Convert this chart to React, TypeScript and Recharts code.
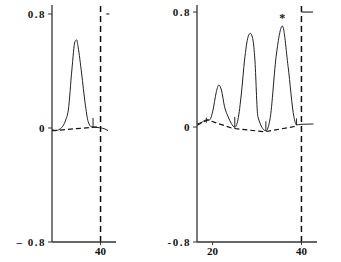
import React from "react";
import {
  LineChart,
  Line,
  XAxis,
  YAxis,
  ReferenceLine,
  ReferenceDot,
} from "recharts";

// left panel trace (time, absorbance)
const leftX = [29.0, 29.7, 30.8, 32.1, 32.7, 33.5, 34.2, 34.6, 34.9, 35.7, 36.5, 37.2, 38.0, 39.8, 41.0, 41.7];
const leftY = [-0.007, -0.019, -0.007, 0.056, 0.126, 0.407, 0.606, 0.618, 0.571, 0.386, 0.175, 0.044, 0.007, 0.002, -0.007, -0.019];
const leftBaseX = [29.0, 39.8];
const leftBaseY = [-0.019, 0.009];
const leftMarks = [[38.3, 0.007, 0.07]];

// right panel trace
const rightX = [16.5, 17.4, 18.6, 19.3, 20.1, 20.8, 21.4, 22.0, 22.7, 23.5, 24.2, 25.0, 25.7, 26.5, 27.2, 28.0, 28.5, 29.1, 29.5, 30.2, 32.0, 32.9, 34.4, 35.7, 37.0, 38.3, 38.9, 39.9, 42.7];
const rightY = [0.021, 0.03, 0.049, 0.049, 0.118, 0.237, 0.292, 0.257, 0.141, 0.072, 0.026, -0.002, 0.049, 0.237, 0.466, 0.628, 0.652, 0.605, 0.48, 0.072, -0.026, 0.049, 0.515, 0.703, 0.42, 0.072, 0.014, 0.019, 0.021];
const rightBaseX = [16.5, 18.9, 24.5, 31.7, 39.1];
const rightBaseY = [0.012, 0.049, -0.009, -0.033, 0.007];
const rightMarks = [
  [18.6, 0.03, 0.065],
  [25.0, -0.002, 0.07],
  [32.0, -0.026, 0.04],
  [38.9, 0.014, 0.06],
];
const starX = 35.7;
const starY = 0.703;

const yTicks = [-0.8, 0, 0.8];
const leftXTicks = [40];
const rightXTicks = [20, 40];

const zip = (xs: number[], ys: number[]) => xs.map((x, i) => ({ x, y: ys[i] }));

const font = { fontFamily: "Liberation Serif", fontWeight: 700, fontSize: 11, fill: "#111" };

function Panel(props: {
  left: number;
  width: number;
  axisW: number;
  xDomain: [number, number];
  yTop: number;
  xTicks: number[];
  curve: { x: number; y: number }[];
  base: { x: number; y: number }[];
  marks: number[][];
  negLabel: string;
  capEnd: number;
  capStart: number;
  star?: boolean;
}) {
  const { xDomain } = props;
  return (
    <div style={{ position: "absolute", left: props.left, top: 0 }}>
      <LineChart
        width={props.width}
        height={262}
        margin={{ top: 5, right: 10, bottom: 0, left: 0 }}
      >
        <XAxis
          type="number"
          dataKey="x"
          domain={xDomain}
          allowDataOverflow
          ticks={props.xTicks}
          tick={font}
          tickSize={3}
          tickMargin={2}
          height={20}
          axisLine={{ stroke: "#333", strokeWidth: 1.3 }}
          tickLine={{ stroke: "#333" }}
        />
        <YAxis
          type="number"
          dataKey="y"
          domain={[-0.8, props.yTop]}
          allowDataOverflow
          ticks={yTicks}
          width={props.axisW}
          tick={{ ...font, letterSpacing: 1.5 }}
          tickSize={4}
          tickMargin={2}
          axisLine={{ stroke: "#333", strokeWidth: 1.3 }}
          tickLine={{ stroke: "#333" }}
          tickFormatter={(v: number) => (v < 0 ? props.negLabel : v > 0 ? "0.8" : "0")}
        />
        <ReferenceLine x={40} stroke="#111" strokeWidth={1.5} strokeDasharray="6 4" />
        <ReferenceLine
          segment={[{ x: props.capStart, y: 0.8 }, { x: props.capEnd, y: 0.8 }]}
          stroke="#333"
          strokeWidth={1.2}
          ifOverflow="visible"
        />
        {props.marks.map((m, i) => (
          <ReferenceLine
            key={i}
            segment={[{ x: m[0], y: m[1] }, { x: m[0], y: m[2] }]}
            stroke="#222"
            strokeWidth={1}
          />
        ))}
        <Line
          data={props.base}
          dataKey="y"
          type="linear"
          stroke="#111"
          strokeWidth={1.2}
          strokeDasharray="5 3"
          dot={false}
          isAnimationActive={false}
        />
        <Line
          data={props.curve}
          dataKey="y"
          type="monotone"
          stroke="#222"
          strokeWidth={1}
          dot={false}
          isAnimationActive={false}
        />
        {props.star && (
          <ReferenceDot
            x={starX}
            y={starY}
            r={0}
            label={{ value: "*", position: "top", offset: 4, ...font, fontSize: 12 }}
          />
        )}
      </LineChart>
    </div>
  );
}

export default function App() {
  return (
    <div style={{ position: "absolute", left: 0, top: 0, width: 341, height: 262, background: "#fff" }}>
      <Panel
        left={0}
        width={126}
        axisW={52}
        xDomain={[29, 43.5]}
        yTop={0.863}
        xTicks={leftXTicks}
        curve={zip(leftX, leftY)}
        base={zip(leftBaseX, leftBaseY)}
        marks={leftMarks}
        negLabel="– 0.8"
        capStart={41.3}
        capEnd={42}
      />
      <Panel
        left={150}
        width={177}
        axisW={47}
        xDomain={[16.5, 43.5]}
        yTop={0.849}
        xTicks={rightXTicks}
        curve={zip(rightX, rightY)}
        base={zip(rightBaseX, rightBaseY)}
        marks={rightMarks}
        negLabel="-0.8"
        capStart={40}
        capEnd={42.6}
        star
      />
    </div>
  );
}
